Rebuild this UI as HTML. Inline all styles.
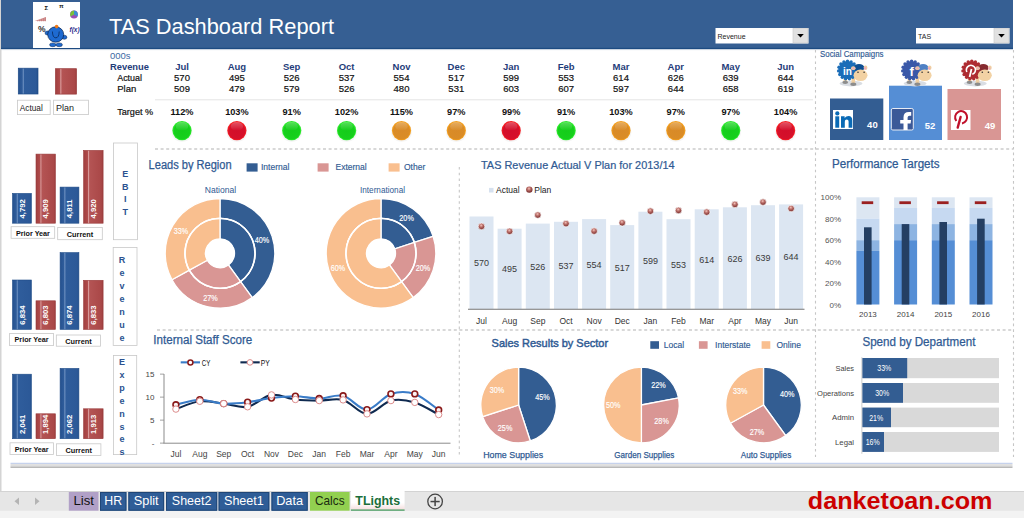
<!DOCTYPE html><html><head><meta charset="utf-8"><style>html,body{margin:0;padding:0;width:1024px;height:518px;overflow:hidden;background:#fff;font-family:"Liberation Sans",sans-serif}</style></head><body><svg width="1024" height="518" viewBox="0 0 1024 518" font-family="'Liberation Sans', sans-serif" style="position:absolute;left:0;top:0">
<defs>
<radialGradient id="gG" cx="50%" cy="52%" r="52%"><stop offset="0" stop-color="#14cc1a"/><stop offset="0.8" stop-color="#16d01c"/><stop offset="0.92" stop-color="#2cee2c"/><stop offset="1" stop-color="#22d822"/></radialGradient>
<radialGradient id="gR" cx="50%" cy="52%" r="52%"><stop offset="0" stop-color="#d20e2a"/><stop offset="0.8" stop-color="#d6102a"/><stop offset="0.92" stop-color="#fa1e22"/><stop offset="1" stop-color="#e81822"/></radialGradient>
<radialGradient id="gO" cx="50%" cy="52%" r="52%"><stop offset="0" stop-color="#d88a28"/><stop offset="0.8" stop-color="#da8c26"/><stop offset="0.92" stop-color="#f6a01c"/><stop offset="1" stop-color="#e8961e"/></radialGradient>
<linearGradient id="hl" x1="0" y1="0" x2="0" y2="1"><stop offset="0" stop-color="#fff" stop-opacity="0.28"/><stop offset="0.6" stop-color="#fff" stop-opacity="0.12"/><stop offset="1" stop-color="#fff" stop-opacity="0"/></linearGradient>
<radialGradient id="pd" cx="45%" cy="35%" r="65%"><stop offset="0" stop-color="#f4c4bc"/><stop offset="0.35" stop-color="#c07670"/><stop offset="0.8" stop-color="#8a3c3a"/><stop offset="1" stop-color="#6a2626"/></radialGradient>
<linearGradient id="bb" x1="0" x2="1"><stop offset="0" stop-color="#24508e"/><stop offset="0.12" stop-color="#2b5896"/><stop offset="0.2" stop-color="#2f5c9a"/><stop offset="0.25" stop-color="#6f92c2"/><stop offset="0.31" stop-color="#2f5d9c"/><stop offset="0.9" stop-color="#2c5998"/><stop offset="1" stop-color="#24508c"/></linearGradient>
<linearGradient id="rb" x1="0" x2="1"><stop offset="0" stop-color="#a04040"/><stop offset="0.12" stop-color="#aa4646"/><stop offset="0.2" stop-color="#b04c4c"/><stop offset="0.25" stop-color="#d89a9a"/><stop offset="0.31" stop-color="#b45454"/><stop offset="0.9" stop-color="#aa4848"/><stop offset="1" stop-color="#9c3e3e"/></linearGradient>
<linearGradient id="tl" x1="0" y1="0" x2="0" y2="1"><stop offset="0" stop-color="#fff"/><stop offset="0.6" stop-color="#fff"/><stop offset="1" stop-color="#f3dada"/></linearGradient>
</defs>
<rect width="1024" height="518" fill="#fff"/>
<rect x="0" y="0" width="1.5" height="491" fill="#d4d4d4"/>
<rect x="1" y="0" width="1012" height="48" fill="#365f93"/>
<rect x="1" y="47.8" width="1012" height="1.3" fill="#1d4b82"/>
<rect x="1" y="49.1" width="1012" height="1" fill="#c8d2de"/>
<rect x="33" y="2" width="47" height="46" fill="#fff"/>
<text x="109.0" y="33.5" font-size="22" fill="#fff" text-anchor="start" font-weight="normal" textLength="225" lengthAdjust="spacingAndGlyphs" >TAS Dashboard Report</text>
<rect x="715.5" y="28" width="93.0" height="15.5" fill="#fff"/>
<rect x="793.0" y="28.5" width="15" height="14.5" fill="#e1e1e1" stroke="#c8c8c8" stroke-width="0.6"/>
<path d="M797.2,34 L803.8,34 L800.5,37.6 Z" fill="#000"/>
<text x="717.5" y="38.8" font-size="7" fill="#222" text-anchor="start" font-weight="normal" >Revenue</text>
<rect x="916" y="28" width="93.5" height="15.5" fill="#fff"/>
<rect x="994.0" y="28.5" width="15" height="14.5" fill="#e1e1e1" stroke="#c8c8c8" stroke-width="0.6"/>
<path d="M998.2,34 L1004.8,34 L1001.5,37.6 Z" fill="#000"/>
<text x="918.0" y="38.8" font-size="7" fill="#222" text-anchor="start" font-weight="normal" >TAS</text>
<text x="110.0" y="58.8" font-size="9.5" fill="#3d6aa3" text-anchor="start" font-weight="normal" >000s</text>
<text x="110.0" y="70.3" font-size="9.3" fill="#1f3d7a" text-anchor="start" font-weight="bold" textLength="39" lengthAdjust="spacingAndGlyphs" >Revenue</text>
<text x="117.2" y="81.4" font-size="9.5" fill="#111" text-anchor="start" font-weight="normal" textLength="24.8" lengthAdjust="spacingAndGlyphs" stroke="#111" stroke-width="0.2">Actual</text>
<text x="117.2" y="92.3" font-size="9.5" fill="#111" text-anchor="start" font-weight="normal" stroke="#111" stroke-width="0.2">Plan</text>
<text x="117.2" y="114.5" font-size="9.5" fill="#111" text-anchor="start" font-weight="normal" textLength="36" lengthAdjust="spacingAndGlyphs" stroke="#111" stroke-width="0.2">Target %</text>
<text x="182.0" y="70.3" font-size="9.5" fill="#1f3d7a" text-anchor="middle" font-weight="bold" >Jul</text>
<text x="182.0" y="81.4" font-size="9.5" fill="#111" text-anchor="middle" font-weight="normal" stroke="#111" stroke-width="0.2">570</text>
<text x="182.0" y="92.3" font-size="9.5" fill="#111" text-anchor="middle" font-weight="normal" stroke="#111" stroke-width="0.2">509</text>
<text x="182.0" y="114.5" font-size="9.2" fill="#111" text-anchor="middle" font-weight="bold" >112%</text>
<ellipse cx="182.0" cy="132.1" rx="10.5" ry="10" fill="#000" opacity="0.04"/>
<circle cx="182.0" cy="130.6" r="9.6" fill="url(#gG)"/>
<ellipse cx="182.0" cy="126.39999999999999" rx="6.2" ry="4.3" fill="url(#hl)"/>
<text x="236.9" y="70.3" font-size="9.5" fill="#1f3d7a" text-anchor="middle" font-weight="bold" >Aug</text>
<text x="236.9" y="81.4" font-size="9.5" fill="#111" text-anchor="middle" font-weight="normal" stroke="#111" stroke-width="0.2">495</text>
<text x="236.9" y="92.3" font-size="9.5" fill="#111" text-anchor="middle" font-weight="normal" stroke="#111" stroke-width="0.2">479</text>
<text x="236.9" y="114.5" font-size="9.2" fill="#111" text-anchor="middle" font-weight="bold" >103%</text>
<ellipse cx="236.9" cy="132.1" rx="10.5" ry="10" fill="#000" opacity="0.04"/>
<circle cx="236.9" cy="130.6" r="9.6" fill="url(#gR)"/>
<ellipse cx="236.9" cy="126.39999999999999" rx="6.2" ry="4.3" fill="url(#hl)"/>
<text x="291.7" y="70.3" font-size="9.5" fill="#1f3d7a" text-anchor="middle" font-weight="bold" >Sep</text>
<text x="291.7" y="81.4" font-size="9.5" fill="#111" text-anchor="middle" font-weight="normal" stroke="#111" stroke-width="0.2">526</text>
<text x="291.7" y="92.3" font-size="9.5" fill="#111" text-anchor="middle" font-weight="normal" stroke="#111" stroke-width="0.2">579</text>
<text x="291.7" y="114.5" font-size="9.2" fill="#111" text-anchor="middle" font-weight="bold" >91%</text>
<ellipse cx="291.7" cy="132.1" rx="10.5" ry="10" fill="#000" opacity="0.04"/>
<circle cx="291.7" cy="130.6" r="9.6" fill="url(#gG)"/>
<ellipse cx="291.7" cy="126.39999999999999" rx="6.2" ry="4.3" fill="url(#hl)"/>
<text x="346.6" y="70.3" font-size="9.5" fill="#1f3d7a" text-anchor="middle" font-weight="bold" >Oct</text>
<text x="346.6" y="81.4" font-size="9.5" fill="#111" text-anchor="middle" font-weight="normal" stroke="#111" stroke-width="0.2">537</text>
<text x="346.6" y="92.3" font-size="9.5" fill="#111" text-anchor="middle" font-weight="normal" stroke="#111" stroke-width="0.2">526</text>
<text x="346.6" y="114.5" font-size="9.2" fill="#111" text-anchor="middle" font-weight="bold" >102%</text>
<ellipse cx="346.6" cy="132.1" rx="10.5" ry="10" fill="#000" opacity="0.04"/>
<circle cx="346.6" cy="130.6" r="9.6" fill="url(#gG)"/>
<ellipse cx="346.6" cy="126.39999999999999" rx="6.2" ry="4.3" fill="url(#hl)"/>
<text x="401.5" y="70.3" font-size="9.5" fill="#1f3d7a" text-anchor="middle" font-weight="bold" >Nov</text>
<text x="401.5" y="81.4" font-size="9.5" fill="#111" text-anchor="middle" font-weight="normal" stroke="#111" stroke-width="0.2">554</text>
<text x="401.5" y="92.3" font-size="9.5" fill="#111" text-anchor="middle" font-weight="normal" stroke="#111" stroke-width="0.2">480</text>
<text x="401.5" y="114.5" font-size="9.2" fill="#111" text-anchor="middle" font-weight="bold" >115%</text>
<ellipse cx="401.5" cy="132.1" rx="10.5" ry="10" fill="#000" opacity="0.04"/>
<circle cx="401.5" cy="130.6" r="9.6" fill="url(#gO)"/>
<ellipse cx="401.5" cy="126.39999999999999" rx="6.2" ry="4.3" fill="url(#hl)"/>
<text x="456.3" y="70.3" font-size="9.5" fill="#1f3d7a" text-anchor="middle" font-weight="bold" >Dec</text>
<text x="456.3" y="81.4" font-size="9.5" fill="#111" text-anchor="middle" font-weight="normal" stroke="#111" stroke-width="0.2">517</text>
<text x="456.3" y="92.3" font-size="9.5" fill="#111" text-anchor="middle" font-weight="normal" stroke="#111" stroke-width="0.2">531</text>
<text x="456.3" y="114.5" font-size="9.2" fill="#111" text-anchor="middle" font-weight="bold" >97%</text>
<ellipse cx="456.3" cy="132.1" rx="10.5" ry="10" fill="#000" opacity="0.04"/>
<circle cx="456.3" cy="130.6" r="9.6" fill="url(#gO)"/>
<ellipse cx="456.3" cy="126.39999999999999" rx="6.2" ry="4.3" fill="url(#hl)"/>
<text x="511.2" y="70.3" font-size="9.5" fill="#1f3d7a" text-anchor="middle" font-weight="bold" >Jan</text>
<text x="511.2" y="81.4" font-size="9.5" fill="#111" text-anchor="middle" font-weight="normal" stroke="#111" stroke-width="0.2">599</text>
<text x="511.2" y="92.3" font-size="9.5" fill="#111" text-anchor="middle" font-weight="normal" stroke="#111" stroke-width="0.2">603</text>
<text x="511.2" y="114.5" font-size="9.2" fill="#111" text-anchor="middle" font-weight="bold" >99%</text>
<ellipse cx="511.2" cy="132.1" rx="10.5" ry="10" fill="#000" opacity="0.04"/>
<circle cx="511.2" cy="130.6" r="9.6" fill="url(#gR)"/>
<ellipse cx="511.2" cy="126.39999999999999" rx="6.2" ry="4.3" fill="url(#hl)"/>
<text x="566.1" y="70.3" font-size="9.5" fill="#1f3d7a" text-anchor="middle" font-weight="bold" >Feb</text>
<text x="566.1" y="81.4" font-size="9.5" fill="#111" text-anchor="middle" font-weight="normal" stroke="#111" stroke-width="0.2">553</text>
<text x="566.1" y="92.3" font-size="9.5" fill="#111" text-anchor="middle" font-weight="normal" stroke="#111" stroke-width="0.2">607</text>
<text x="566.1" y="114.5" font-size="9.2" fill="#111" text-anchor="middle" font-weight="bold" >91%</text>
<ellipse cx="566.1" cy="132.1" rx="10.5" ry="10" fill="#000" opacity="0.04"/>
<circle cx="566.1" cy="130.6" r="9.6" fill="url(#gG)"/>
<ellipse cx="566.1" cy="126.39999999999999" rx="6.2" ry="4.3" fill="url(#hl)"/>
<text x="621.0" y="70.3" font-size="9.5" fill="#1f3d7a" text-anchor="middle" font-weight="bold" >Mar</text>
<text x="621.0" y="81.4" font-size="9.5" fill="#111" text-anchor="middle" font-weight="normal" stroke="#111" stroke-width="0.2">614</text>
<text x="621.0" y="92.3" font-size="9.5" fill="#111" text-anchor="middle" font-weight="normal" stroke="#111" stroke-width="0.2">597</text>
<text x="621.0" y="114.5" font-size="9.2" fill="#111" text-anchor="middle" font-weight="bold" >103%</text>
<ellipse cx="621.0" cy="132.1" rx="10.5" ry="10" fill="#000" opacity="0.04"/>
<circle cx="621.0" cy="130.6" r="9.6" fill="url(#gO)"/>
<ellipse cx="621.0" cy="126.39999999999999" rx="6.2" ry="4.3" fill="url(#hl)"/>
<text x="675.8" y="70.3" font-size="9.5" fill="#1f3d7a" text-anchor="middle" font-weight="bold" >Apr</text>
<text x="675.8" y="81.4" font-size="9.5" fill="#111" text-anchor="middle" font-weight="normal" stroke="#111" stroke-width="0.2">626</text>
<text x="675.8" y="92.3" font-size="9.5" fill="#111" text-anchor="middle" font-weight="normal" stroke="#111" stroke-width="0.2">644</text>
<text x="675.8" y="114.5" font-size="9.2" fill="#111" text-anchor="middle" font-weight="bold" >97%</text>
<ellipse cx="675.8" cy="132.1" rx="10.5" ry="10" fill="#000" opacity="0.04"/>
<circle cx="675.8" cy="130.6" r="9.6" fill="url(#gO)"/>
<ellipse cx="675.8" cy="126.39999999999999" rx="6.2" ry="4.3" fill="url(#hl)"/>
<text x="730.7" y="70.3" font-size="9.5" fill="#1f3d7a" text-anchor="middle" font-weight="bold" >May</text>
<text x="730.7" y="81.4" font-size="9.5" fill="#111" text-anchor="middle" font-weight="normal" stroke="#111" stroke-width="0.2">639</text>
<text x="730.7" y="92.3" font-size="9.5" fill="#111" text-anchor="middle" font-weight="normal" stroke="#111" stroke-width="0.2">658</text>
<text x="730.7" y="114.5" font-size="9.2" fill="#111" text-anchor="middle" font-weight="bold" >97%</text>
<ellipse cx="730.7" cy="132.1" rx="10.5" ry="10" fill="#000" opacity="0.04"/>
<circle cx="730.7" cy="130.6" r="9.6" fill="url(#gG)"/>
<ellipse cx="730.7" cy="126.39999999999999" rx="6.2" ry="4.3" fill="url(#hl)"/>
<text x="785.6" y="70.3" font-size="9.5" fill="#1f3d7a" text-anchor="middle" font-weight="bold" >Jun</text>
<text x="785.6" y="81.4" font-size="9.5" fill="#111" text-anchor="middle" font-weight="normal" stroke="#111" stroke-width="0.2">644</text>
<text x="785.6" y="92.3" font-size="9.5" fill="#111" text-anchor="middle" font-weight="normal" stroke="#111" stroke-width="0.2">619</text>
<text x="785.6" y="114.5" font-size="9.2" fill="#111" text-anchor="middle" font-weight="bold" >104%</text>
<ellipse cx="785.6" cy="132.1" rx="10.5" ry="10" fill="#000" opacity="0.04"/>
<circle cx="785.6" cy="130.6" r="9.6" fill="url(#gR)"/>
<ellipse cx="785.6" cy="126.39999999999999" rx="6.2" ry="4.3" fill="url(#hl)"/>
<rect x="155" y="99.3" width="658" height="1" fill="#e4e4e4"/>
<line x1="155" y1="149" x2="1013" y2="149" stroke="#cbcbcb" stroke-width="1.6" stroke-dasharray="3 2.6"/>
<line x1="157" y1="330" x2="1013" y2="330" stroke="#cbcbcb" stroke-width="1.6" stroke-dasharray="3 2.6"/>
<line x1="815.5" y1="50" x2="815.5" y2="457" stroke="#c6c6c6" stroke-width="1.1" stroke-dasharray="2.6 3.1"/>
<line x1="1013.5" y1="50" x2="1013.5" y2="457" stroke="#c6c6c6" stroke-width="1.1" stroke-dasharray="2.6 3.1"/>
<line x1="459.3" y1="167" x2="459.3" y2="457" stroke="#c6c6c6" stroke-width="1.1" stroke-dasharray="2.6 3.1"/>
<rect x="18.3" y="68.2" width="19.7" height="25.8" fill="url(#bb)" stroke="#1f4c88" stroke-width="0.7"/>
<rect x="55.5" y="68.7" width="21" height="25.4" fill="url(#rb)" stroke="#983a3a" stroke-width="0.7"/>
<rect x="17.5" y="100.2" width="32.7" height="14.4" fill="#fff" stroke="#c8c8c8" stroke-width="0.8"/>
<rect x="53.6" y="100.2" width="34.9" height="14.4" fill="#fff" stroke="#c8c8c8" stroke-width="0.8"/>
<text x="19.8" y="111.0" font-size="9" fill="#222" text-anchor="start" font-weight="normal" textLength="23" lengthAdjust="spacingAndGlyphs" >Actual</text>
<text x="56.0" y="111.0" font-size="9" fill="#222" text-anchor="start" font-weight="normal" >Plan</text>
<rect x="12.5" y="193.4" width="18.9" height="29.8" fill="url(#bb)" stroke="#1f4c88" stroke-width="0.6"/>
<text x="21.9" y="208.8" font-size="7.7" fill="#fff" font-weight="bold" text-anchor="middle" transform="rotate(-90 21.9 208.8)" dy="2.8">4,792</text>
<rect x="36.0" y="154.1" width="19.4" height="69.1" fill="url(#rb)" stroke="#983a3a" stroke-width="0.6"/>
<text x="45.7" y="208.8" font-size="7.7" fill="#fff" font-weight="bold" text-anchor="middle" transform="rotate(-90 45.7 208.8)" dy="2.8">4,909</text>
<rect x="60.1" y="187.1" width="18.8" height="36.1" fill="url(#bb)" stroke="#1f4c88" stroke-width="0.6"/>
<text x="69.5" y="208.8" font-size="7.7" fill="#fff" font-weight="bold" text-anchor="middle" transform="rotate(-90 69.5 208.8)" dy="2.8">4,811</text>
<rect x="83.6" y="150.4" width="19.5" height="72.8" fill="url(#rb)" stroke="#983a3a" stroke-width="0.6"/>
<text x="93.3" y="208.8" font-size="7.7" fill="#fff" font-weight="bold" text-anchor="middle" transform="rotate(-90 93.3 208.8)" dy="2.8">4,920</text>
<rect x="11.1" y="226.7" width="43.6" height="11.6" fill="#fff" stroke="#c8c8c8" stroke-width="0.8"/>
<rect x="57.7" y="227.5" width="44.6" height="12.2" fill="#fff" stroke="#c8c8c8" stroke-width="0.8"/>
<text x="32.9" y="235.5" font-size="7.8" fill="#111" text-anchor="middle" font-weight="bold" textLength="34" lengthAdjust="spacingAndGlyphs" >Prior Year</text>
<text x="80.0" y="236.7" font-size="7.8" fill="#111" text-anchor="middle" font-weight="bold" textLength="26.5" lengthAdjust="spacingAndGlyphs" >Current</text>
<rect x="113.5" y="143" width="23.9" height="96.7" fill="#fff" stroke="#c8c8c8" stroke-width="0.8"/>
<text x="125.3" y="176.7" font-size="9" fill="#2b5290" text-anchor="middle" font-weight="bold" >E</text>
<text x="125.3" y="189.6" font-size="9" fill="#2b5290" text-anchor="middle" font-weight="bold" >B</text>
<text x="125.3" y="202.4" font-size="9" fill="#2b5290" text-anchor="middle" font-weight="bold" >I</text>
<text x="125.3" y="215.2" font-size="9" fill="#2b5290" text-anchor="middle" font-weight="bold" >T</text>
<rect x="12.5" y="280.0" width="18.9" height="49.4" fill="url(#bb)" stroke="#1f4c88" stroke-width="0.6"/>
<text x="21.9" y="315.0" font-size="7.7" fill="#fff" font-weight="bold" text-anchor="middle" transform="rotate(-90 21.9 315.0)" dy="2.8">6,834</text>
<rect x="36.0" y="300.8" width="19.4" height="28.6" fill="url(#rb)" stroke="#983a3a" stroke-width="0.6"/>
<text x="45.7" y="315.0" font-size="7.7" fill="#fff" font-weight="bold" text-anchor="middle" transform="rotate(-90 45.7 315.0)" dy="2.8">6,803</text>
<rect x="60.1" y="252.6" width="18.8" height="76.8" fill="url(#bb)" stroke="#1f4c88" stroke-width="0.6"/>
<text x="69.5" y="315.0" font-size="7.7" fill="#fff" font-weight="bold" text-anchor="middle" transform="rotate(-90 69.5 315.0)" dy="2.8">6,874</text>
<rect x="83.6" y="280.3" width="19.5" height="49.1" fill="url(#rb)" stroke="#983a3a" stroke-width="0.6"/>
<text x="93.3" y="315.0" font-size="7.7" fill="#fff" font-weight="bold" text-anchor="middle" transform="rotate(-90 93.3 315.0)" dy="2.8">6,833</text>
<rect x="9.6" y="333.5" width="43.9" height="12.1" fill="#fff" stroke="#c8c8c8" stroke-width="0.8"/>
<rect x="56.3" y="335" width="44.2" height="11.2" fill="#fff" stroke="#c8c8c8" stroke-width="0.8"/>
<text x="31.5" y="342.3" font-size="7.8" fill="#111" text-anchor="middle" font-weight="bold" textLength="34" lengthAdjust="spacingAndGlyphs" >Prior Year</text>
<text x="78.4" y="344.2" font-size="7.8" fill="#111" text-anchor="middle" font-weight="bold" textLength="26.5" lengthAdjust="spacingAndGlyphs" >Current</text>
<rect x="113.2" y="247.4" width="23.8" height="98.2" fill="#fff" stroke="#c8c8c8" stroke-width="0.8"/>
<text x="122.0" y="262.5" font-size="9" fill="#2b5290" text-anchor="middle" font-weight="bold" >R</text>
<text x="122.0" y="275.5" font-size="9" fill="#2b5290" text-anchor="middle" font-weight="bold" >e</text>
<text x="122.0" y="288.5" font-size="9" fill="#2b5290" text-anchor="middle" font-weight="bold" >v</text>
<text x="122.0" y="301.5" font-size="9" fill="#2b5290" text-anchor="middle" font-weight="bold" >e</text>
<text x="122.0" y="314.5" font-size="9" fill="#2b5290" text-anchor="middle" font-weight="bold" >n</text>
<text x="122.0" y="327.5" font-size="9" fill="#2b5290" text-anchor="middle" font-weight="bold" >u</text>
<text x="122.0" y="340.5" font-size="9" fill="#2b5290" text-anchor="middle" font-weight="bold" >e</text>
<clipPath id="expclip"><rect x="113" y="355" width="24" height="99.5"/></clipPath>
<rect x="12.5" y="374.2" width="18.9" height="64.5" fill="url(#bb)" stroke="#1f4c88" stroke-width="0.6"/>
<text x="21.9" y="424.3" font-size="7.7" fill="#fff" font-weight="bold" text-anchor="middle" transform="rotate(-90 21.9 424.3)" dy="2.8">2,041</text>
<rect x="36.0" y="413.8" width="19.4" height="24.9" fill="url(#rb)" stroke="#983a3a" stroke-width="0.6"/>
<text x="45.7" y="424.3" font-size="7.7" fill="#fff" font-weight="bold" text-anchor="middle" transform="rotate(-90 45.7 424.3)" dy="2.8">1,894</text>
<rect x="60.1" y="368.4" width="18.8" height="70.3" fill="url(#bb)" stroke="#1f4c88" stroke-width="0.6"/>
<text x="69.5" y="424.3" font-size="7.7" fill="#fff" font-weight="bold" text-anchor="middle" transform="rotate(-90 69.5 424.3)" dy="2.8">2,062</text>
<rect x="83.6" y="408.8" width="19.5" height="29.9" fill="url(#rb)" stroke="#983a3a" stroke-width="0.6"/>
<text x="93.3" y="424.3" font-size="7.7" fill="#fff" font-weight="bold" text-anchor="middle" transform="rotate(-90 93.3 424.3)" dy="2.8">1,913</text>
<rect x="10" y="442.8" width="43.4" height="11.8" fill="#fff" stroke="#c8c8c8" stroke-width="0.8"/>
<rect x="56.4" y="443.8" width="44.5" height="11.6" fill="#fff" stroke="#c8c8c8" stroke-width="0.8"/>
<text x="31.7" y="451.6" font-size="7.8" fill="#111" text-anchor="middle" font-weight="bold" textLength="34" lengthAdjust="spacingAndGlyphs" >Prior Year</text>
<text x="78.7" y="453.0" font-size="7.8" fill="#111" text-anchor="middle" font-weight="bold" textLength="26.5" lengthAdjust="spacingAndGlyphs" >Current</text>
<rect x="113.4" y="355.5" width="23.3" height="99.1" fill="#fff" stroke="#c8c8c8" stroke-width="0.8"/>
<text x="122.0" y="365.0" font-size="9" fill="#2b5290" text-anchor="middle" font-weight="bold" >E</text>
<text x="122.0" y="377.9" font-size="9" fill="#2b5290" text-anchor="middle" font-weight="bold" >x</text>
<text x="122.0" y="390.8" font-size="9" fill="#2b5290" text-anchor="middle" font-weight="bold" >p</text>
<text x="122.0" y="403.7" font-size="9" fill="#2b5290" text-anchor="middle" font-weight="bold" >e</text>
<text x="122.0" y="416.6" font-size="9" fill="#2b5290" text-anchor="middle" font-weight="bold" >n</text>
<text x="122.0" y="429.5" font-size="9" fill="#2b5290" text-anchor="middle" font-weight="bold" >s</text>
<text x="122.0" y="442.4" font-size="9" fill="#2b5290" text-anchor="middle" font-weight="bold" >e</text>
<text x="122.0" y="455.3" font-size="9" fill="#2b5290" text-anchor="middle" font-weight="bold" >s</text>
<text x="148.6" y="169.0" font-size="12" fill="#2f5a93" text-anchor="start" font-weight="normal" textLength="83" lengthAdjust="spacingAndGlyphs" stroke="#2f5a93" stroke-width="0.25">Leads by Region</text>
<rect x="246.6" y="163.3" width="11" height="8.3" fill="#335d92"/>
<text x="261.0" y="170.3" font-size="8.5" fill="#2f5a93" text-anchor="start" font-weight="normal" stroke="#2f5a93" stroke-width="0.15">Internal</text>
<rect x="317.6" y="163.3" width="11" height="8.3" fill="#d99694"/>
<text x="335.5" y="170.3" font-size="8.5" fill="#2f5a93" text-anchor="start" font-weight="normal" stroke="#2f5a93" stroke-width="0.15">External</text>
<rect x="388.6" y="163.3" width="11" height="8.3" fill="#f9bf8f"/>
<text x="404.0" y="170.3" font-size="8.5" fill="#2f5a93" text-anchor="start" font-weight="normal" stroke="#2f5a93" stroke-width="0.15">Other</text>
<text x="220.5" y="192.6" font-size="9" fill="#2f5a93" text-anchor="middle" font-weight="normal" textLength="31.5" lengthAdjust="spacingAndGlyphs" >National</text>
<text x="382.5" y="192.6" font-size="9" fill="#2f5a93" text-anchor="middle" font-weight="normal" textLength="45" lengthAdjust="spacingAndGlyphs" >International</text>
<path d="M220.00,198.50 A54.8,54.8 0 0 1 252.21,297.63 L240.57,281.62 A35,35 0 0 0 220.00,218.30 Z" fill="#335d92" stroke="#fff" stroke-width="1.3"/>
<path d="M220.00,218.30 A35,35 0 0 1 240.57,281.62 L228.52,265.03 A14.5,14.5 0 0 0 220.00,238.80 Z" fill="#335d92" stroke="#fff" stroke-width="1.3"/>
<path d="M252.21,297.63 A54.8,54.8 0 0 1 171.98,279.70 L189.33,270.16 A35,35 0 0 0 240.57,281.62 Z" fill="#d99694" stroke="#fff" stroke-width="1.3"/>
<path d="M240.57,281.62 A35,35 0 0 1 189.33,270.16 L207.29,260.29 A14.5,14.5 0 0 0 228.52,265.03 Z" fill="#d99694" stroke="#fff" stroke-width="1.3"/>
<path d="M171.98,279.70 A54.8,54.8 0 0 1 220.00,198.50 L220.00,218.30 A35,35 0 0 0 189.33,270.16 Z" fill="#f9bf8f" stroke="#fff" stroke-width="1.3"/>
<path d="M189.33,270.16 A35,35 0 0 1 220.00,218.30 L220.00,238.80 A14.5,14.5 0 0 0 207.29,260.29 Z" fill="#f9bf8f" stroke="#fff" stroke-width="1.3"/>
<circle cx="220" cy="253.3" r="35" fill="none" stroke="#fff" stroke-width="1.6"/>
<circle cx="220" cy="253.3" r="14.5" fill="#fff"/>
<text x="262.0" y="242.8" font-size="9" fill="#fff" text-anchor="middle" font-weight="normal" textLength="14.5" lengthAdjust="spacingAndGlyphs" stroke="#fff" stroke-width="0.15">40%</text>
<text x="210.4" y="300.8" font-size="9" fill="#fff" text-anchor="middle" font-weight="normal" textLength="14.5" lengthAdjust="spacingAndGlyphs" stroke="#fff" stroke-width="0.15">27%</text>
<text x="181.0" y="234.2" font-size="9" fill="#fff" text-anchor="middle" font-weight="normal" textLength="14.5" lengthAdjust="spacingAndGlyphs" stroke="#fff" stroke-width="0.15">33%</text>
<path d="M381.00,198.50 A54.8,54.8 0 0 1 433.12,236.37 L414.29,242.48 A35,35 0 0 0 381.00,218.30 Z" fill="#335d92" stroke="#fff" stroke-width="1.3"/>
<path d="M381.00,218.30 A35,35 0 0 1 414.29,242.48 L394.79,248.82 A14.5,14.5 0 0 0 381.00,238.80 Z" fill="#335d92" stroke="#fff" stroke-width="1.3"/>
<path d="M433.12,236.37 A54.8,54.8 0 0 1 413.21,297.63 L401.57,281.62 A35,35 0 0 0 414.29,242.48 Z" fill="#d99694" stroke="#fff" stroke-width="1.3"/>
<path d="M414.29,242.48 A35,35 0 0 1 401.57,281.62 L389.52,265.03 A14.5,14.5 0 0 0 394.79,248.82 Z" fill="#d99694" stroke="#fff" stroke-width="1.3"/>
<path d="M413.21,297.63 A54.8,54.8 0 1 1 381.00,198.50 L381.00,218.30 A35,35 0 1 0 401.57,281.62 Z" fill="#f9bf8f" stroke="#fff" stroke-width="1.3"/>
<path d="M401.57,281.62 A35,35 0 1 1 381.00,218.30 L381.00,238.80 A14.5,14.5 0 1 0 389.52,265.03 Z" fill="#f9bf8f" stroke="#fff" stroke-width="1.3"/>
<circle cx="381" cy="253.3" r="35" fill="none" stroke="#fff" stroke-width="1.6"/>
<circle cx="381" cy="253.3" r="14.5" fill="#fff"/>
<text x="406.6" y="220.5" font-size="9" fill="#fff" text-anchor="middle" font-weight="normal" textLength="14.5" lengthAdjust="spacingAndGlyphs" stroke="#fff" stroke-width="0.15">20%</text>
<text x="423.0" y="271.2" font-size="9" fill="#fff" text-anchor="middle" font-weight="normal" textLength="14.5" lengthAdjust="spacingAndGlyphs" stroke="#fff" stroke-width="0.15">20%</text>
<text x="338.0" y="271.2" font-size="9" fill="#fff" text-anchor="middle" font-weight="normal" textLength="14.5" lengthAdjust="spacingAndGlyphs" stroke="#fff" stroke-width="0.15">60%</text>
<text x="481.0" y="169.0" font-size="11" fill="#2f5a93" text-anchor="start" font-weight="normal" textLength="193.6" lengthAdjust="spacingAndGlyphs" stroke="#2f5a93" stroke-width="0.2">TAS Revenue Actual V Plan for 2013/14</text>
<rect x="489" y="187.9" width="4.5" height="4.6" fill="#d6e1ef"/>
<text x="496.0" y="192.9" font-size="8.5" fill="#222" text-anchor="start" font-weight="normal" >Actual</text>
<circle cx="529.3" cy="189.6" r="3.2" fill="url(#pd)"/>
<text x="534.3" y="192.9" font-size="8.5" fill="#222" text-anchor="start" font-weight="normal" >Plan</text>
<rect x="469.5" y="216.5" width="24" height="92.7" fill="#dce6f2"/>
<text x="481.5" y="266.2" font-size="9.5" fill="#3a3a3a" text-anchor="middle" font-weight="normal" textLength="15" lengthAdjust="spacingAndGlyphs" >570</text>
<circle cx="481.5" cy="226.4" r="3.3" fill="url(#pd)" stroke="#fff" stroke-width="0.7"/>
<text x="481.5" y="323.6" font-size="8.5" fill="#333" text-anchor="middle" font-weight="normal" >Jul</text>
<rect x="497.6" y="228.7" width="24" height="80.5" fill="#dce6f2"/>
<text x="509.6" y="272.3" font-size="9.5" fill="#3a3a3a" text-anchor="middle" font-weight="normal" textLength="15" lengthAdjust="spacingAndGlyphs" >495</text>
<circle cx="509.6" cy="231.3" r="3.3" fill="url(#pd)" stroke="#fff" stroke-width="0.7"/>
<text x="509.6" y="323.6" font-size="8.5" fill="#333" text-anchor="middle" font-weight="normal" >Aug</text>
<rect x="525.8" y="223.6" width="24" height="85.6" fill="#dce6f2"/>
<text x="537.8" y="269.8" font-size="9.5" fill="#3a3a3a" text-anchor="middle" font-weight="normal" textLength="15" lengthAdjust="spacingAndGlyphs" >526</text>
<circle cx="537.8" cy="215.0" r="3.3" fill="url(#pd)" stroke="#fff" stroke-width="0.7"/>
<text x="537.8" y="323.6" font-size="8.5" fill="#333" text-anchor="middle" font-weight="normal" >Sep</text>
<rect x="554.0" y="221.8" width="24" height="87.4" fill="#dce6f2"/>
<text x="566.0" y="268.9" font-size="9.5" fill="#3a3a3a" text-anchor="middle" font-weight="normal" textLength="15" lengthAdjust="spacingAndGlyphs" >537</text>
<circle cx="566.0" cy="223.6" r="3.3" fill="url(#pd)" stroke="#fff" stroke-width="0.7"/>
<text x="566.0" y="323.6" font-size="8.5" fill="#333" text-anchor="middle" font-weight="normal" >Oct</text>
<rect x="582.1" y="219.1" width="24" height="90.1" fill="#dce6f2"/>
<text x="594.1" y="267.5" font-size="9.5" fill="#3a3a3a" text-anchor="middle" font-weight="normal" textLength="15" lengthAdjust="spacingAndGlyphs" >554</text>
<circle cx="594.1" cy="231.1" r="3.3" fill="url(#pd)" stroke="#fff" stroke-width="0.7"/>
<text x="594.1" y="323.6" font-size="8.5" fill="#333" text-anchor="middle" font-weight="normal" >Nov</text>
<rect x="610.2" y="225.1" width="24" height="84.1" fill="#dce6f2"/>
<text x="622.2" y="270.5" font-size="9.5" fill="#3a3a3a" text-anchor="middle" font-weight="normal" textLength="15" lengthAdjust="spacingAndGlyphs" >517</text>
<circle cx="622.2" cy="222.8" r="3.3" fill="url(#pd)" stroke="#fff" stroke-width="0.7"/>
<text x="622.2" y="323.6" font-size="8.5" fill="#333" text-anchor="middle" font-weight="normal" >Dec</text>
<rect x="638.4" y="211.7" width="24" height="97.5" fill="#dce6f2"/>
<text x="650.4" y="263.9" font-size="9.5" fill="#3a3a3a" text-anchor="middle" font-weight="normal" textLength="15" lengthAdjust="spacingAndGlyphs" >599</text>
<circle cx="650.4" cy="211.1" r="3.3" fill="url(#pd)" stroke="#fff" stroke-width="0.7"/>
<text x="650.4" y="323.6" font-size="8.5" fill="#333" text-anchor="middle" font-weight="normal" >Jan</text>
<rect x="666.5" y="219.2" width="24" height="90.0" fill="#dce6f2"/>
<text x="678.5" y="267.6" font-size="9.5" fill="#3a3a3a" text-anchor="middle" font-weight="normal" textLength="15" lengthAdjust="spacingAndGlyphs" >553</text>
<circle cx="678.5" cy="210.4" r="3.3" fill="url(#pd)" stroke="#fff" stroke-width="0.7"/>
<text x="678.5" y="323.6" font-size="8.5" fill="#333" text-anchor="middle" font-weight="normal" >Feb</text>
<rect x="694.7" y="209.3" width="24" height="99.9" fill="#dce6f2"/>
<text x="706.7" y="262.7" font-size="9.5" fill="#3a3a3a" text-anchor="middle" font-weight="normal" textLength="15" lengthAdjust="spacingAndGlyphs" >614</text>
<circle cx="706.7" cy="212.1" r="3.3" fill="url(#pd)" stroke="#fff" stroke-width="0.7"/>
<text x="706.7" y="323.6" font-size="8.5" fill="#333" text-anchor="middle" font-weight="normal" >Mar</text>
<rect x="722.9" y="207.3" width="24" height="101.9" fill="#dce6f2"/>
<text x="734.9" y="261.7" font-size="9.5" fill="#3a3a3a" text-anchor="middle" font-weight="normal" textLength="15" lengthAdjust="spacingAndGlyphs" >626</text>
<circle cx="734.9" cy="204.4" r="3.3" fill="url(#pd)" stroke="#fff" stroke-width="0.7"/>
<text x="734.9" y="323.6" font-size="8.5" fill="#333" text-anchor="middle" font-weight="normal" >Apr</text>
<rect x="751.0" y="205.2" width="24" height="104.0" fill="#dce6f2"/>
<text x="763.0" y="260.6" font-size="9.5" fill="#3a3a3a" text-anchor="middle" font-weight="normal" textLength="15" lengthAdjust="spacingAndGlyphs" >639</text>
<circle cx="763.0" cy="202.1" r="3.3" fill="url(#pd)" stroke="#fff" stroke-width="0.7"/>
<text x="763.0" y="323.6" font-size="8.5" fill="#333" text-anchor="middle" font-weight="normal" >May</text>
<rect x="779.1" y="204.4" width="24" height="104.8" fill="#dce6f2"/>
<text x="791.1" y="260.2" font-size="9.5" fill="#3a3a3a" text-anchor="middle" font-weight="normal" textLength="15" lengthAdjust="spacingAndGlyphs" >644</text>
<circle cx="791.1" cy="208.5" r="3.3" fill="url(#pd)" stroke="#fff" stroke-width="0.7"/>
<text x="791.1" y="323.6" font-size="8.5" fill="#333" text-anchor="middle" font-weight="normal" >Jun</text>
<rect x="468" y="308.7" width="336.5" height="1.2" fill="#8c8c8c"/>
<text x="832.0" y="167.5" font-size="12" fill="#2f5a93" text-anchor="start" font-weight="normal" textLength="107.6" lengthAdjust="spacingAndGlyphs" stroke="#2f5a93" stroke-width="0.25">Performance Targets</text>
<rect x="856.4" y="197.3" width="23" height="21.4" fill="#dce6f2"/>
<rect x="856.4" y="218.7" width="23" height="21.4" fill="#c6d9f1"/>
<rect x="856.4" y="240.2" width="23" height="10.7" fill="#8db4e2"/>
<rect x="856.4" y="250.9" width="23" height="53.6" fill="#558ed5"/>
<rect x="864.0" y="227.3" width="7.6" height="77.2" fill="#243f63"/>
<rect x="861.7" y="201.3" width="11.5" height="2.8" fill="#9b2020"/>
<text x="867.9" y="317.0" font-size="8" fill="#444" text-anchor="middle" font-weight="normal" >2013</text>
<rect x="894.1" y="197.3" width="23" height="10.7" fill="#dce6f2"/>
<rect x="894.1" y="208.0" width="23" height="16.1" fill="#c6d9f1"/>
<rect x="894.1" y="224.1" width="23" height="16.1" fill="#8db4e2"/>
<rect x="894.1" y="240.2" width="23" height="64.3" fill="#558ed5"/>
<rect x="901.7" y="224.1" width="7.6" height="80.4" fill="#243f63"/>
<rect x="899.4" y="201.3" width="11.5" height="2.8" fill="#9b2020"/>
<text x="905.6" y="317.0" font-size="8" fill="#444" text-anchor="middle" font-weight="normal" >2014</text>
<rect x="931.8" y="197.3" width="23" height="10.7" fill="#dce6f2"/>
<rect x="931.8" y="208.0" width="23" height="16.1" fill="#c6d9f1"/>
<rect x="931.8" y="224.1" width="23" height="16.1" fill="#8db4e2"/>
<rect x="931.8" y="240.2" width="23" height="64.3" fill="#558ed5"/>
<rect x="939.4" y="222.0" width="7.6" height="82.5" fill="#243f63"/>
<rect x="937.1" y="201.3" width="11.5" height="2.8" fill="#9b2020"/>
<text x="943.3" y="317.0" font-size="8" fill="#444" text-anchor="middle" font-weight="normal" >2015</text>
<rect x="969.5" y="197.3" width="23" height="10.7" fill="#dce6f2"/>
<rect x="969.5" y="208.0" width="23" height="16.1" fill="#c6d9f1"/>
<rect x="969.5" y="224.1" width="23" height="16.1" fill="#8db4e2"/>
<rect x="969.5" y="240.2" width="23" height="64.3" fill="#558ed5"/>
<rect x="977.1" y="218.7" width="7.6" height="85.8" fill="#243f63"/>
<rect x="974.8" y="201.3" width="11.5" height="2.8" fill="#9b2020"/>
<text x="981.0" y="317.0" font-size="8" fill="#444" text-anchor="middle" font-weight="normal" >2016</text>
<text x="841.0" y="307.5" font-size="8" fill="#555" text-anchor="end" font-weight="normal" >0%</text>
<text x="841.0" y="286.1" font-size="8" fill="#555" text-anchor="end" font-weight="normal" >20%</text>
<text x="841.0" y="264.6" font-size="8" fill="#555" text-anchor="end" font-weight="normal" >40%</text>
<text x="841.0" y="243.2" font-size="8" fill="#555" text-anchor="end" font-weight="normal" >60%</text>
<text x="841.0" y="221.7" font-size="8" fill="#555" text-anchor="end" font-weight="normal" >80%</text>
<text x="841.0" y="200.3" font-size="8" fill="#555" text-anchor="end" font-weight="normal" >100%</text>
<text x="153.3" y="343.7" font-size="12" fill="#2f5a93" text-anchor="start" font-weight="normal" textLength="99" lengthAdjust="spacingAndGlyphs" stroke="#2f5a93" stroke-width="0.25">Internal Staff Score</text>
<rect x="163.5" y="374" width="1" height="69.2" fill="#8c8c8c"/>
<rect x="163.5" y="442.7" width="287" height="1" fill="#8c8c8c"/>
<rect x="160" y="442.7" width="4" height="0.8" fill="#8c8c8c"/>
<text x="154.5" y="445.7" font-size="8" fill="#444" text-anchor="end" font-weight="normal" >-</text>
<rect x="160" y="419.7" width="4" height="0.8" fill="#8c8c8c"/>
<text x="154.5" y="422.7" font-size="8" fill="#444" text-anchor="end" font-weight="normal" >5</text>
<rect x="160" y="396.7" width="4" height="0.8" fill="#8c8c8c"/>
<text x="154.5" y="399.7" font-size="8" fill="#444" text-anchor="end" font-weight="normal" >10</text>
<rect x="160" y="373.7" width="4" height="0.8" fill="#8c8c8c"/>
<text x="154.5" y="376.7" font-size="8" fill="#444" text-anchor="end" font-weight="normal" >15</text>
<path d="M175.90,409.12 C179.88,407.82 191.83,402.22 199.79,401.30 C207.75,400.38 215.72,402.68 223.68,403.60 C231.64,404.52 239.61,408.28 247.57,406.82 C255.53,405.36 263.50,396.09 271.46,394.86 C279.42,393.63 287.39,398.50 295.35,399.46 C303.31,400.42 311.28,400.53 319.24,400.61 C327.20,400.69 335.17,397.70 343.13,399.92 C351.09,402.14 359.06,413.83 367.02,413.95 C374.98,414.06 382.95,402.53 390.91,400.61 C398.87,398.69 406.84,400.11 414.80,402.45 C422.76,404.79 434.71,412.61 438.69,414.64" fill="none" stroke="#0f2a50" stroke-width="2.1"/>
<path d="M175.90,404.75 C179.88,403.91 191.83,399.88 199.79,399.69 C207.75,399.50 215.72,403.18 223.68,403.60 C231.64,404.02 239.61,403.14 247.57,402.22 C255.53,401.30 263.50,399.08 271.46,398.08 C279.42,397.08 287.39,396.16 295.35,396.24 C303.31,396.32 311.28,398.62 319.24,398.54 C327.20,398.46 335.17,393.94 343.13,395.78 C351.09,397.62 359.06,409.89 367.02,409.58 C374.98,409.27 382.95,396.55 390.91,393.94 C398.87,391.33 406.84,391.26 414.80,393.94 C422.76,396.62 434.71,407.36 438.69,410.04" fill="none" stroke="#3a7cc8" stroke-width="2.1"/>
<circle cx="175.9" cy="404.8" r="2.9" fill="#fbf3f3" stroke="#8a1a1a" stroke-width="1.6"/>
<circle cx="199.8" cy="399.7" r="2.9" fill="#fbf3f3" stroke="#8a1a1a" stroke-width="1.6"/>
<circle cx="223.7" cy="403.6" r="2.9" fill="#fbf3f3" stroke="#8a1a1a" stroke-width="1.6"/>
<circle cx="247.6" cy="402.2" r="2.9" fill="#fbf3f3" stroke="#8a1a1a" stroke-width="1.6"/>
<circle cx="271.5" cy="398.1" r="2.9" fill="#fbf3f3" stroke="#8a1a1a" stroke-width="1.6"/>
<circle cx="295.4" cy="396.2" r="2.9" fill="#fbf3f3" stroke="#8a1a1a" stroke-width="1.6"/>
<circle cx="319.2" cy="398.5" r="2.9" fill="#fbf3f3" stroke="#8a1a1a" stroke-width="1.6"/>
<circle cx="343.1" cy="395.8" r="2.9" fill="#fbf3f3" stroke="#8a1a1a" stroke-width="1.6"/>
<circle cx="367.0" cy="409.6" r="2.9" fill="#fbf3f3" stroke="#8a1a1a" stroke-width="1.6"/>
<circle cx="390.9" cy="393.9" r="2.9" fill="#fbf3f3" stroke="#8a1a1a" stroke-width="1.6"/>
<circle cx="414.8" cy="393.9" r="2.9" fill="#fbf3f3" stroke="#8a1a1a" stroke-width="1.6"/>
<circle cx="438.7" cy="410.0" r="2.9" fill="#fbf3f3" stroke="#8a1a1a" stroke-width="1.6"/>
<circle cx="175.9" cy="409.1" r="3.2" fill="#fff" stroke="#dc8c8c" stroke-width="1"/>
<circle cx="199.8" cy="401.3" r="3.2" fill="#fff" stroke="#dc8c8c" stroke-width="1"/>
<circle cx="223.7" cy="403.6" r="3.2" fill="#fff" stroke="#dc8c8c" stroke-width="1"/>
<circle cx="247.6" cy="406.8" r="3.2" fill="#fff" stroke="#dc8c8c" stroke-width="1"/>
<circle cx="271.5" cy="394.9" r="3.2" fill="#fff" stroke="#dc8c8c" stroke-width="1"/>
<circle cx="295.4" cy="399.5" r="3.2" fill="#fff" stroke="#dc8c8c" stroke-width="1"/>
<circle cx="319.2" cy="400.6" r="3.2" fill="#fff" stroke="#dc8c8c" stroke-width="1"/>
<circle cx="343.1" cy="399.9" r="3.2" fill="#fff" stroke="#dc8c8c" stroke-width="1"/>
<circle cx="367.0" cy="413.9" r="3.2" fill="#fff" stroke="#dc8c8c" stroke-width="1"/>
<circle cx="390.9" cy="400.6" r="3.2" fill="#fff" stroke="#dc8c8c" stroke-width="1"/>
<circle cx="414.8" cy="402.4" r="3.2" fill="#fff" stroke="#dc8c8c" stroke-width="1"/>
<circle cx="438.7" cy="414.6" r="3.2" fill="#fff" stroke="#dc8c8c" stroke-width="1"/>
<text x="175.9" y="456.6" font-size="8.5" fill="#444" text-anchor="middle" font-weight="normal" >Jul</text>
<text x="199.8" y="456.6" font-size="8.5" fill="#444" text-anchor="middle" font-weight="normal" >Aug</text>
<text x="223.7" y="456.6" font-size="8.5" fill="#444" text-anchor="middle" font-weight="normal" >Sep</text>
<text x="247.6" y="456.6" font-size="8.5" fill="#444" text-anchor="middle" font-weight="normal" >Oct</text>
<text x="271.5" y="456.6" font-size="8.5" fill="#444" text-anchor="middle" font-weight="normal" >Nov</text>
<text x="295.4" y="456.6" font-size="8.5" fill="#444" text-anchor="middle" font-weight="normal" >Dec</text>
<text x="319.2" y="456.6" font-size="8.5" fill="#444" text-anchor="middle" font-weight="normal" >Jan</text>
<text x="343.1" y="456.6" font-size="8.5" fill="#444" text-anchor="middle" font-weight="normal" >Feb</text>
<text x="367.0" y="456.6" font-size="8.5" fill="#444" text-anchor="middle" font-weight="normal" >Mar</text>
<text x="390.9" y="456.6" font-size="8.5" fill="#444" text-anchor="middle" font-weight="normal" >Apr</text>
<text x="414.8" y="456.6" font-size="8.5" fill="#444" text-anchor="middle" font-weight="normal" >May</text>
<text x="438.7" y="456.6" font-size="8.5" fill="#444" text-anchor="middle" font-weight="normal" >Jun</text>
<rect x="180.7" y="361.3" width="19.3" height="2.1" fill="#3a7cc8"/>
<circle cx="190.4" cy="362.4" r="2.5" fill="#fff" stroke="#8a1a1a" stroke-width="1.5"/>
<text x="201.7" y="365.6" font-size="9" fill="#111" text-anchor="start" font-weight="normal" textLength="8.6" lengthAdjust="spacingAndGlyphs" >CY</text>
<rect x="240.4" y="361.3" width="19.3" height="2.1" fill="#0f2a50"/>
<circle cx="250" cy="362.4" r="2.8" fill="#fff" stroke="#dc8c8c" stroke-width="1"/>
<text x="260.8" y="365.6" font-size="9" fill="#111" text-anchor="start" font-weight="normal" textLength="9" lengthAdjust="spacingAndGlyphs" >PY</text>
<text x="491.6" y="346.6" font-size="11.5" fill="#2f5a93" text-anchor="start" font-weight="normal" textLength="116.5" lengthAdjust="spacingAndGlyphs" stroke="#2f5a93" stroke-width="0.45">Sales Results by Sector</text>
<rect x="650.3" y="341.2" width="8.7" height="7.6" fill="#335d92"/>
<text x="663.8" y="348.0" font-size="8.5" fill="#2f5a93" text-anchor="start" font-weight="normal" stroke="#2f5a93" stroke-width="0.15">Local</text>
<rect x="698.9" y="341.2" width="8.7" height="7.6" fill="#d99694"/>
<text x="715.1" y="348.0" font-size="8.5" fill="#2f5a93" text-anchor="start" font-weight="normal" stroke="#2f5a93" stroke-width="0.15">Interstate</text>
<rect x="761.6" y="341.2" width="8.7" height="7.6" fill="#f9bf8f"/>
<text x="776.5" y="348.0" font-size="8.5" fill="#2f5a93" text-anchor="start" font-weight="normal" stroke="#2f5a93" stroke-width="0.15">Online</text>
<path d="M518.60,405.00 L518.60,367.20 A37.8,37.8 0 0 1 530.28,440.95 Z" fill="#335d92" stroke="#fff" stroke-width="1.3"/>
<path d="M518.60,405.00 L530.28,440.95 A37.8,37.8 0 0 1 482.65,416.68 Z" fill="#d99694" stroke="#fff" stroke-width="1.3"/>
<path d="M518.60,405.00 L482.65,416.68 A37.8,37.8 0 0 1 518.60,367.20 Z" fill="#f9bf8f" stroke="#fff" stroke-width="1.3"/>
<text x="542.4" y="400.4" font-size="9" fill="#fff" text-anchor="middle" font-weight="normal" textLength="14.5" lengthAdjust="spacingAndGlyphs" stroke="#fff" stroke-width="0.15">45%</text>
<text x="505.1" y="431.4" font-size="9" fill="#fff" text-anchor="middle" font-weight="normal" textLength="14.5" lengthAdjust="spacingAndGlyphs" stroke="#fff" stroke-width="0.15">25%</text>
<text x="497.0" y="392.5" font-size="9" fill="#fff" text-anchor="middle" font-weight="normal" textLength="14.5" lengthAdjust="spacingAndGlyphs" stroke="#fff" stroke-width="0.15">30%</text>
<text x="513.2" y="458.3" font-size="9.5" fill="#2f5a93" text-anchor="middle" font-weight="normal" textLength="60" lengthAdjust="spacingAndGlyphs" stroke="#2f5a93" stroke-width="0.25">Home Supplies</text>
<path d="M641.40,405.00 L641.40,367.20 A37.8,37.8 0 0 1 678.53,397.92 Z" fill="#335d92" stroke="#fff" stroke-width="1.3"/>
<path d="M641.40,405.00 L678.53,397.92 A37.8,37.8 0 0 1 641.40,442.80 Z" fill="#d99694" stroke="#fff" stroke-width="1.3"/>
<path d="M641.40,405.00 L641.40,442.80 A37.8,37.8 0 0 1 641.40,367.20 Z" fill="#f9bf8f" stroke="#fff" stroke-width="1.3"/>
<text x="658.4" y="387.7" font-size="9" fill="#fff" text-anchor="middle" font-weight="normal" textLength="14.5" lengthAdjust="spacingAndGlyphs" stroke="#fff" stroke-width="0.15">22%</text>
<text x="661.6" y="424.2" font-size="9" fill="#fff" text-anchor="middle" font-weight="normal" textLength="14.5" lengthAdjust="spacingAndGlyphs" stroke="#fff" stroke-width="0.15">28%</text>
<text x="613.2" y="407.9" font-size="9" fill="#fff" text-anchor="middle" font-weight="normal" textLength="14.5" lengthAdjust="spacingAndGlyphs" stroke="#fff" stroke-width="0.15">50%</text>
<text x="644.3" y="458.3" font-size="9.5" fill="#2f5a93" text-anchor="middle" font-weight="normal" textLength="60" lengthAdjust="spacingAndGlyphs" stroke="#2f5a93" stroke-width="0.25">Garden Supplies</text>
<path d="M763.50,405.00 L763.50,367.20 A37.8,37.8 0 0 1 785.72,435.58 Z" fill="#335d92" stroke="#fff" stroke-width="1.3"/>
<path d="M763.50,405.00 L785.72,435.58 A37.8,37.8 0 0 1 730.38,423.21 Z" fill="#d99694" stroke="#fff" stroke-width="1.3"/>
<path d="M763.50,405.00 L730.38,423.21 A37.8,37.8 0 0 1 763.50,367.20 Z" fill="#f9bf8f" stroke="#fff" stroke-width="1.3"/>
<text x="787.3" y="397.1" font-size="9" fill="#fff" text-anchor="middle" font-weight="normal" textLength="14.5" lengthAdjust="spacingAndGlyphs" stroke="#fff" stroke-width="0.15">40%</text>
<text x="757.0" y="435.0" font-size="9" fill="#fff" text-anchor="middle" font-weight="normal" textLength="14.5" lengthAdjust="spacingAndGlyphs" stroke="#fff" stroke-width="0.15">27%</text>
<text x="740.3" y="393.9" font-size="9" fill="#fff" text-anchor="middle" font-weight="normal" textLength="14.5" lengthAdjust="spacingAndGlyphs" stroke="#fff" stroke-width="0.15">33%</text>
<text x="766.0" y="458.3" font-size="9.5" fill="#2f5a93" text-anchor="middle" font-weight="normal" textLength="50.5" lengthAdjust="spacingAndGlyphs" stroke="#2f5a93" stroke-width="0.25">Auto Supplies</text>
<text x="862.4" y="346.0" font-size="12" fill="#2f5a93" text-anchor="start" font-weight="normal" textLength="113" lengthAdjust="spacingAndGlyphs" stroke="#2f5a93" stroke-width="0.25">Spend by Department</text>
<rect x="861.5" y="357.2" width="0.8" height="96.6" fill="#bfbfbf"/>
<rect x="862.4" y="358" width="136.6" height="20.2" fill="#d9d9d9"/>
<rect x="862.4" y="358" width="44.8" height="20.2" fill="#335d92"/>
<text x="884.3" y="371.3" font-size="8.8" fill="#fff" text-anchor="middle" font-weight="normal" textLength="14" lengthAdjust="spacingAndGlyphs" >33%</text>
<text x="854.0" y="371.1" font-size="8" fill="#444" text-anchor="end" font-weight="normal" textLength="18.5" lengthAdjust="spacingAndGlyphs" >Sales</text>
<rect x="862.4" y="383" width="136.6" height="19.8" fill="#d9d9d9"/>
<rect x="862.4" y="383" width="40.6" height="19.8" fill="#335d92"/>
<text x="882.2" y="396.1" font-size="8.8" fill="#fff" text-anchor="middle" font-weight="normal" textLength="14" lengthAdjust="spacingAndGlyphs" >30%</text>
<text x="854.0" y="395.9" font-size="8" fill="#444" text-anchor="end" font-weight="normal" textLength="37" lengthAdjust="spacingAndGlyphs" >Operations</text>
<rect x="862.4" y="407.6" width="136.6" height="19.6" fill="#d9d9d9"/>
<rect x="862.4" y="407.6" width="28.6" height="19.6" fill="#335d92"/>
<text x="876.2" y="420.6" font-size="8.8" fill="#fff" text-anchor="middle" font-weight="normal" textLength="14" lengthAdjust="spacingAndGlyphs" >21%</text>
<text x="854.0" y="420.4" font-size="8" fill="#444" text-anchor="end" font-weight="normal" textLength="22" lengthAdjust="spacingAndGlyphs" >Admin</text>
<rect x="862.4" y="432" width="136.6" height="19.9" fill="#d9d9d9"/>
<rect x="862.4" y="432" width="21.6" height="19.9" fill="#335d92"/>
<text x="872.7" y="445.1" font-size="8.8" fill="#fff" text-anchor="middle" font-weight="normal" textLength="14" lengthAdjust="spacingAndGlyphs" >16%</text>
<text x="854.0" y="444.9" font-size="8" fill="#444" text-anchor="end" font-weight="normal" textLength="19" lengthAdjust="spacingAndGlyphs" >Legal</text>
<rect x="10.5" y="462.8" width="1002" height="1" fill="#b8c8e8"/>
<rect x="10.5" y="464.1" width="1002" height="2.8" fill="#dedede"/>
<rect x="10.5" y="466.7" width="1002" height="1.1" fill="#a8a8a8"/>
<text x="820.0" y="56.6" font-size="9" fill="#2f5a93" text-anchor="start" font-weight="normal" textLength="63.5" lengthAdjust="spacingAndGlyphs" stroke="#2f5a93" stroke-width="0.15">Social Campaigns</text>
<rect x="830" y="98.5" width="53.3" height="41.5" fill="#335d92"/>
<rect x="889" y="85.7" width="53" height="54.3" fill="#558ed5"/>
<rect x="947.5" y="89" width="53.5" height="51" fill="#d99694"/>
<rect x="833" y="110" width="20" height="19" fill="#fff"/>
<circle cx="837.3" cy="113.4" r="2.1" fill="#0a6ab6"/><rect x="835.3" y="116.3" width="3.9" height="11.4" fill="#0a6ab6"/>
<path d="M841,127.7 L841,116.3 L844.6,116.3 L844.6,118 Q846,116 848.6,116 Q852.3,116.2 852.3,120.5 L852.3,127.7 L848.6,127.7 L848.6,121.5 Q848.6,119.4 846.7,119.4 Q844.8,119.4 844.8,121.8 L844.8,127.7 Z" fill="#0a6ab6"/>
<rect x="891.3" y="108.5" width="22" height="21.5" rx="1.5" fill="#3b5998" stroke="#e8ecf4" stroke-width="1"/>
<path d="M903.5,130 L903.5,123.6 L900.2,123.6 L900.2,119.9 L903.5,119.9 L903.5,117.2 Q903.5,112 909,112 L911.2,112 L911.2,115.7 L909.6,115.7 Q907.6,115.7 907.6,117.6 L907.6,119.9 L911.1,119.9 L910.6,123.6 L907.6,123.6 L907.6,130 Z" fill="#fff"/>
<rect x="951" y="110" width="19.5" height="20" fill="#fff"/>
<path d="M956.3,121 A6,6.2 0 1 1 962,123.4" fill="none" stroke="#c0102a" stroke-width="2"/><path d="M960.6,117 L957.7,127.6" stroke="#c0102a" stroke-width="2.4" stroke-linecap="round"/>
<text x="877.7" y="128.2" font-size="9.5" fill="#fff" text-anchor="end" font-weight="bold" >40</text>
<text x="935.3" y="128.5" font-size="9.5" fill="#fff" text-anchor="end" font-weight="bold" >52</text>
<text x="995.3" y="128.5" font-size="9.5" fill="#fff" text-anchor="end" font-weight="bold" >49</text>
<ellipse cx="851.0" cy="83.6" rx="11.5" ry="2.8" fill="#d9dde3"/>
<rect x="843.5" y="76" width="3.6" height="6" fill="#efcfa2"/>
<rect x="851.5" y="77" width="3.6" height="7" fill="#efcfa2"/>
<ellipse cx="845.2" cy="82.3" rx="2.9" ry="1.6" fill="#8c8c8c"/>
<ellipse cx="853.3" cy="84.2" rx="3" ry="1.7" fill="#8c8c8c"/>
<circle cx="847.5" cy="70" r="9" fill="#1b6db8"/>
<circle cx="847.5" cy="61.1" r="1.7" fill="#1b6db8"/>
<circle cx="851.1" cy="61.9" r="1.7" fill="#1b6db8"/>
<circle cx="854.1" cy="64.0" r="1.7" fill="#1b6db8"/>
<circle cx="856.0" cy="67.2" r="1.7" fill="#1b6db8"/>
<circle cx="856.4" cy="70.9" r="1.7" fill="#1b6db8"/>
<circle cx="855.2" cy="74.5" r="1.7" fill="#1b6db8"/>
<circle cx="852.7" cy="77.2" r="1.7" fill="#1b6db8"/>
<circle cx="849.4" cy="78.7" r="1.7" fill="#1b6db8"/>
<circle cx="845.6" cy="78.7" r="1.7" fill="#1b6db8"/>
<circle cx="842.3" cy="77.2" r="1.7" fill="#1b6db8"/>
<circle cx="839.8" cy="74.5" r="1.7" fill="#1b6db8"/>
<circle cx="838.6" cy="70.9" r="1.7" fill="#1b6db8"/>
<circle cx="839.0" cy="67.2" r="1.7" fill="#1b6db8"/>
<circle cx="840.9" cy="64.0" r="1.7" fill="#1b6db8"/>
<circle cx="843.9" cy="61.9" r="1.7" fill="#1b6db8"/>
<ellipse cx="859.0" cy="67.8" rx="5.3" ry="3.8" fill="#0f4f92"/>
<ellipse cx="853.3" cy="68.2" rx="2.3" ry="1.9" fill="#efcfa2"/><ellipse cx="853.5" cy="68.3" rx="1.3" ry="1" fill="#f0a8c0"/>
<ellipse cx="865.5" cy="67.8" rx="1.9" ry="2.2" fill="#efcfa2"/><ellipse cx="865.1" cy="68.2" rx="1" ry="1.2" fill="#f0a8c0"/>
<ellipse cx="860.5" cy="75.3" rx="7" ry="5.8" fill="#f2d2a4"/>
<circle cx="858.0" cy="72.2" r="0.8" fill="#333"/><circle cx="864.1" cy="72.2" r="0.8" fill="#333"/>
<text x="847.5" y="74.5" font-size="11.5" font-weight="bold" fill="#fff" text-anchor="middle" textLength="9" lengthAdjust="spacingAndGlyphs">in</text>
<ellipse cx="915.1" cy="83.6" rx="11.5" ry="2.8" fill="#d9dde3"/>
<rect x="907.6" y="76" width="3.6" height="6" fill="#efcfa2"/>
<rect x="915.6" y="77" width="3.6" height="7" fill="#efcfa2"/>
<ellipse cx="909.3000000000001" cy="82.3" rx="2.9" ry="1.6" fill="#8c8c8c"/>
<ellipse cx="917.4" cy="84.2" rx="3" ry="1.7" fill="#8c8c8c"/>
<circle cx="911.6" cy="70" r="9" fill="#3a58a8"/>
<circle cx="911.6" cy="61.1" r="1.7" fill="#3a58a8"/>
<circle cx="915.2" cy="61.9" r="1.7" fill="#3a58a8"/>
<circle cx="918.2" cy="64.0" r="1.7" fill="#3a58a8"/>
<circle cx="920.1" cy="67.2" r="1.7" fill="#3a58a8"/>
<circle cx="920.5" cy="70.9" r="1.7" fill="#3a58a8"/>
<circle cx="919.3" cy="74.5" r="1.7" fill="#3a58a8"/>
<circle cx="916.8" cy="77.2" r="1.7" fill="#3a58a8"/>
<circle cx="913.5" cy="78.7" r="1.7" fill="#3a58a8"/>
<circle cx="909.7" cy="78.7" r="1.7" fill="#3a58a8"/>
<circle cx="906.4" cy="77.2" r="1.7" fill="#3a58a8"/>
<circle cx="903.9" cy="74.5" r="1.7" fill="#3a58a8"/>
<circle cx="902.7" cy="70.9" r="1.7" fill="#3a58a8"/>
<circle cx="903.1" cy="67.2" r="1.7" fill="#3a58a8"/>
<circle cx="905.0" cy="64.0" r="1.7" fill="#3a58a8"/>
<circle cx="908.0" cy="61.9" r="1.7" fill="#3a58a8"/>
<ellipse cx="923.1" cy="67.8" rx="5.3" ry="3.8" fill="#4f80c4"/>
<ellipse cx="917.4" cy="68.2" rx="2.3" ry="1.9" fill="#efcfa2"/><ellipse cx="917.6" cy="68.3" rx="1.3" ry="1" fill="#f0a8c0"/>
<ellipse cx="929.6" cy="67.8" rx="1.9" ry="2.2" fill="#efcfa2"/><ellipse cx="929.2" cy="68.2" rx="1" ry="1.2" fill="#f0a8c0"/>
<ellipse cx="924.6" cy="75.3" rx="7" ry="5.8" fill="#f2d2a4"/>
<circle cx="922.1" cy="72.2" r="0.8" fill="#333"/><circle cx="928.2" cy="72.2" r="0.8" fill="#333"/>
<text x="911.6" y="75.5" font-size="13" font-weight="bold" fill="#fff" text-anchor="middle">f</text>
<ellipse cx="975.3" cy="83.6" rx="11.5" ry="2.8" fill="#d9dde3"/>
<rect x="967.8" y="76" width="3.6" height="6" fill="#efcfa2"/>
<rect x="975.8" y="77" width="3.6" height="7" fill="#efcfa2"/>
<ellipse cx="969.5" cy="82.3" rx="2.9" ry="1.6" fill="#8c8c8c"/>
<ellipse cx="977.5999999999999" cy="84.2" rx="3" ry="1.7" fill="#8c8c8c"/>
<circle cx="971.8" cy="70" r="9" fill="#ae2b31"/>
<circle cx="971.8" cy="61.1" r="1.7" fill="#ae2b31"/>
<circle cx="975.4" cy="61.9" r="1.7" fill="#ae2b31"/>
<circle cx="978.4" cy="64.0" r="1.7" fill="#ae2b31"/>
<circle cx="980.3" cy="67.2" r="1.7" fill="#ae2b31"/>
<circle cx="980.7" cy="70.9" r="1.7" fill="#ae2b31"/>
<circle cx="979.5" cy="74.5" r="1.7" fill="#ae2b31"/>
<circle cx="977.0" cy="77.2" r="1.7" fill="#ae2b31"/>
<circle cx="973.7" cy="78.7" r="1.7" fill="#ae2b31"/>
<circle cx="969.9" cy="78.7" r="1.7" fill="#ae2b31"/>
<circle cx="966.6" cy="77.2" r="1.7" fill="#ae2b31"/>
<circle cx="964.1" cy="74.5" r="1.7" fill="#ae2b31"/>
<circle cx="962.9" cy="70.9" r="1.7" fill="#ae2b31"/>
<circle cx="963.3" cy="67.2" r="1.7" fill="#ae2b31"/>
<circle cx="965.2" cy="64.0" r="1.7" fill="#ae2b31"/>
<circle cx="968.2" cy="61.9" r="1.7" fill="#ae2b31"/>
<ellipse cx="983.3" cy="67.8" rx="5.3" ry="3.8" fill="#862a30"/>
<ellipse cx="977.5999999999999" cy="68.2" rx="2.3" ry="1.9" fill="#efcfa2"/><ellipse cx="977.8" cy="68.3" rx="1.3" ry="1" fill="#f0a8c0"/>
<ellipse cx="989.8" cy="67.8" rx="1.9" ry="2.2" fill="#efcfa2"/><ellipse cx="989.4" cy="68.2" rx="1" ry="1.2" fill="#f0a8c0"/>
<ellipse cx="984.8" cy="75.3" rx="7" ry="5.8" fill="#f2d2a4"/>
<circle cx="982.3" cy="72.2" r="0.8" fill="#333"/><circle cx="988.4" cy="72.2" r="0.8" fill="#333"/>
<path d="M966.8,72.0 A4.6,4.6 0 1 1 972.3,74.3" fill="none" stroke="#fff" stroke-width="1.6"/><path d="M971.5,69.0 L969.6,77.0" stroke="#fff" stroke-width="1.8"/>
<path d="M34.5,21 L46,17 L46,21 Z" fill="#d9a0a0"/>
<rect x="37.0" y="20.5" width="1.2" height="0.8" fill="#c07070" opacity="0.7"/>
<rect x="38.9" y="19.7" width="1.2" height="1.6" fill="#c07070" opacity="0.7"/>
<rect x="40.8" y="18.9" width="1.2" height="2.4" fill="#c07070" opacity="0.7"/>
<rect x="42.7" y="18.1" width="1.2" height="3.2" fill="#c07070" opacity="0.7"/>
<rect x="44.6" y="17.3" width="1.2" height="4.0" fill="#c07070" opacity="0.7"/>
<text x="38" y="32" font-size="8.5" fill="#333" font-weight="bold">%</text>
<text x="44.5" y="10" font-size="6" fill="#111" font-weight="bold">Σ</text>
<text x="59" y="7.5" font-size="6" fill="#111" font-weight="bold">π</text>
<circle cx="74" cy="14.5" r="3.9" fill="#9b4fb8"/><path d="M74,14.5 L74,10.6 A3.9,3.9 0 0 1 77.4,16.4 Z" fill="#3a8fd0"/><path d="M74,14.5 L70.6,16.4 A3.9,3.9 0 0 1 74,10.6 Z" fill="#7cbf3a"/>
<text x="69.5" y="32" font-size="6.5" fill="#2a2a8a" font-style="italic" font-weight="bold">f(x)</text>
<ellipse cx="52.8" cy="44.8" rx="3.2" ry="1.9" fill="#1e6ad0" stroke="#06204a" stroke-width="0.5"/>
<ellipse cx="59.2" cy="44.8" rx="3.2" ry="1.9" fill="#1e6ad0" stroke="#06204a" stroke-width="0.5"/>
<ellipse cx="47.6" cy="33" rx="2.6" ry="2" fill="#1e6ad0" stroke="#06204a" stroke-width="0.5"/>
<ellipse cx="64.3" cy="37.3" rx="2.6" ry="2" fill="#1e6ad0" stroke="#06204a" stroke-width="0.5"/>
<ellipse cx="55.7" cy="34.5" rx="8" ry="7.7" fill="#1e6ad0" stroke="#06204a" stroke-width="0.7"/>
<path d="M52.4,31.5 Q52.6,37.8 55.8,37.8 Q59,37.8 59.2,31.5" fill="none" stroke="#06204a" stroke-width="0.7"/>
<circle cx="56.6" cy="26.6" r="1.8" fill="#f07a18"/>
<rect x="0" y="491" width="1024" height="27" fill="#e6e6e6"/>
<rect x="0" y="491" width="1024" height="0.8" fill="#cfcfcf"/>
<rect x="0" y="510.8" width="1024" height="7.2" fill="#f3f3f3"/>
<path d="M19,497.5 L14.5,501.3 L19,505 Z" fill="#b4b4b4"/>
<path d="M35,497.5 L39.5,501.3 L35,505 Z" fill="#b4b4b4"/>
<rect x="68.8" y="492" width="29.7" height="18.7" fill="#b1a0c7"/>
<text x="83.7" y="505.0" font-size="13" fill="#111" text-anchor="middle" font-weight="normal" textLength="20.5" lengthAdjust="spacingAndGlyphs" >List</text>
<rect x="100" y="492" width="26.4" height="18.7" fill="#2f5d97"/>
<rect x="100.5" y="492.5" width="25.4" height="17.7" fill="none" stroke="#1f4677" stroke-width="1"/>
<text x="113.2" y="505.0" font-size="13" fill="#fff" text-anchor="middle" font-weight="normal" textLength="17.8" lengthAdjust="spacingAndGlyphs" >HR</text>
<rect x="128.4" y="492" width="35.7" height="18.7" fill="#2f5d97"/>
<rect x="128.9" y="492.5" width="34.7" height="17.7" fill="none" stroke="#1f4677" stroke-width="1"/>
<text x="146.2" y="505.0" font-size="13" fill="#fff" text-anchor="middle" font-weight="normal" textLength="24.8" lengthAdjust="spacingAndGlyphs" >Split</text>
<rect x="166" y="492" width="51.2" height="18.7" fill="#2f5d97"/>
<rect x="166.5" y="492.5" width="50.2" height="17.7" fill="none" stroke="#1f4677" stroke-width="1"/>
<text x="191.6" y="505.0" font-size="13" fill="#fff" text-anchor="middle" font-weight="normal" textLength="39.5" lengthAdjust="spacingAndGlyphs" >Sheet2</text>
<rect x="218.6" y="492" width="50.7" height="18.7" fill="#2f5d97"/>
<rect x="219.1" y="492.5" width="49.7" height="17.7" fill="none" stroke="#1f4677" stroke-width="1"/>
<text x="243.9" y="505.0" font-size="13" fill="#fff" text-anchor="middle" font-weight="normal" textLength="39.8" lengthAdjust="spacingAndGlyphs" >Sheet1</text>
<rect x="271.5" y="492" width="36.2" height="18.7" fill="#2f5d97"/>
<rect x="272.0" y="492.5" width="35.2" height="17.7" fill="none" stroke="#1f4677" stroke-width="1"/>
<text x="289.6" y="505.0" font-size="13" fill="#fff" text-anchor="middle" font-weight="normal" textLength="26.9" lengthAdjust="spacingAndGlyphs" >Data</text>
<rect x="310" y="492" width="39.6" height="18.7" fill="#92d050"/>
<text x="329.8" y="505.0" font-size="13" fill="#1a2a10" text-anchor="middle" font-weight="normal" textLength="29.5" lengthAdjust="spacingAndGlyphs" >Calcs</text>
<rect x="350.9" y="491" width="53.7" height="19.5" fill="url(#tl)"/>
<rect x="350.9" y="509.5" width="53.7" height="1.2" fill="#3a9a5a"/>
<text x="377.7" y="505.0" font-size="13" fill="#1a6e3a" text-anchor="middle" font-weight="bold" textLength="44.7" lengthAdjust="spacingAndGlyphs" >TLights</text>
<circle cx="435.1" cy="501.5" r="7.3" fill="none" stroke="#444" stroke-width="1.3"/>
<rect x="430.5" y="500.8" width="9.2" height="1.5" fill="#444"/><rect x="434.35" y="496.9" width="1.5" height="9.2" fill="#444"/>
<text x="807.8" y="509.4" font-size="24" fill="#cc0000" text-anchor="start" font-weight="bold" textLength="184.7" lengthAdjust="spacingAndGlyphs" >danketoan.com</text>
</svg></body></html>
